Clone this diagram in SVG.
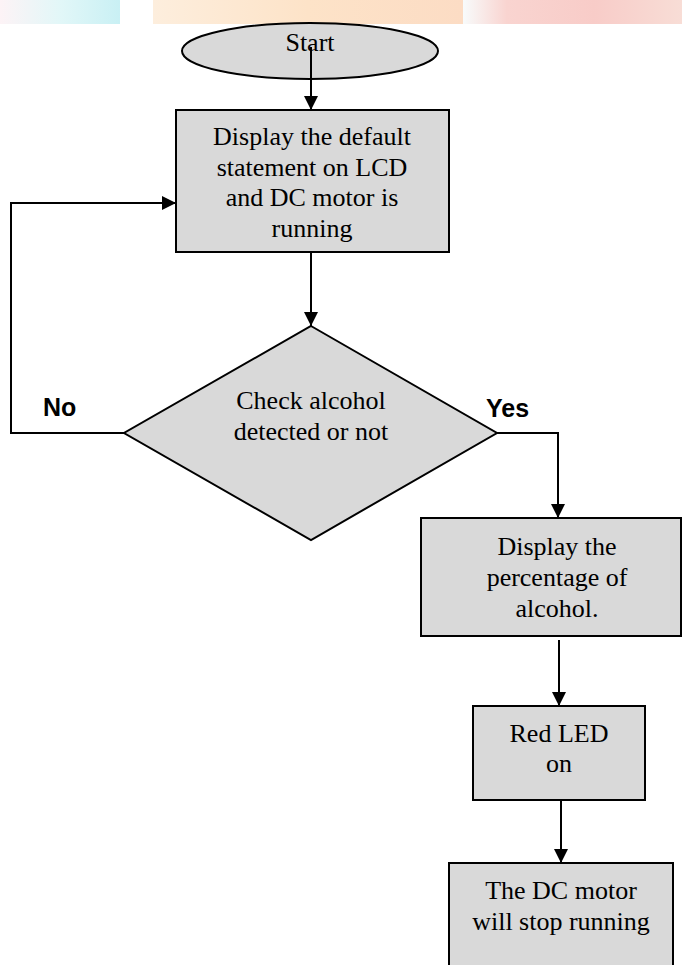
<svg xmlns="http://www.w3.org/2000/svg" width="682" height="965" viewBox="0 0 682 965">
<defs>
<style>
.node{fill:#d9d9d9;stroke:#000;stroke-width:2}
.t{font-family:"Liberation Serif","Times New Roman",serif;font-size:26px;fill:#000;text-anchor:middle}
.lbl{font-family:"Liberation Sans",Arial,sans-serif;font-size:25px;font-weight:bold;fill:#000}
.edge{fill:none;stroke:#000;stroke-width:2}
</style>
<marker id="ah" markerWidth="14" markerHeight="14" refX="14" refY="7" orient="auto" markerUnits="userSpaceOnUse">
<path d="M0,0 L14,7 L0,14 Z" fill="#000"/>
</marker>
<linearGradient id="gc" x1="0" y1="0" x2="1" y2="0">
<stop offset="0" stop-color="#fdf3f6"/>
<stop offset="0.5" stop-color="#e2f7f8"/>
<stop offset="1" stop-color="#c9f0f4"/>
</linearGradient>
<linearGradient id="go" x1="0" y1="0" x2="1" y2="0">
<stop offset="0" stop-color="#fdeedd"/>
<stop offset="0.5" stop-color="#fde3c8"/>
<stop offset="1" stop-color="#fcdcc4"/>
</linearGradient>
<linearGradient id="gr" x1="0" y1="0" x2="1" y2="0">
<stop offset="0" stop-color="#f8fbfb"/>
<stop offset="0.2" stop-color="#f9d4d0"/>
<stop offset="0.6" stop-color="#f8ccc8"/>
<stop offset="1" stop-color="#f8ddd6"/>
</linearGradient>
</defs>
<rect width="682" height="965" fill="#fff"/>
<g id="watermark">
<rect x="0" y="0" width="120" height="24" fill="url(#gc)"/>
<rect x="153" y="0" width="310" height="24" fill="url(#go)"/>
<rect x="463" y="0" width="219" height="24" fill="url(#gr)"/>
</g>
<g id="start">
<ellipse class="node" cx="310" cy="51" rx="128" ry="28"/>
<text class="t" x="310" y="51">Start</text>
</g>
<g id="display-default">
<rect class="node" x="176" y="110" width="273" height="142"/>
<text class="t" x="312" y="145">Display the default</text>
<text class="t" x="312" y="176">statement on LCD</text>
<text class="t" x="312" y="206">and DC motor is</text>
<text class="t" x="312" y="237">running</text>
</g>
<g id="check">
<polygon class="node" points="311,326 497,433 311,540 124,433"/>
<text class="t" x="311" y="409">Check alcohol</text>
<text class="t" x="311" y="440">detected or not</text>
</g>
<g id="display-percentage">
<rect class="node" x="421" y="518" width="260" height="118"/>
<text class="t" x="557" y="555">Display the</text>
<text class="t" x="557" y="586">percentage of</text>
<text class="t" x="557" y="617">alcohol.</text>
</g>
<g id="red-led">
<rect class="node" x="473" y="706" width="172" height="94"/>
<text class="t" x="559" y="742">Red LED</text>
<text class="t" x="559" y="772">on</text>
</g>
<g id="motor-stop">
<rect class="node" x="449" y="863" width="224" height="110"/>
<text class="t" x="561" y="899">The DC motor</text>
<text class="t" x="561" y="930">will stop running</text>
</g>
<g id="connectors">
<path class="edge" d="M311,47 V110" marker-end="url(#ah)"/>
<path class="edge" d="M311,252 V326" marker-end="url(#ah)"/>
<path class="edge" d="M124,433 H11 V203 H176" marker-end="url(#ah)"/>
<path class="edge" d="M497,433 H558 V518" marker-end="url(#ah)"/>
<path class="edge" d="M559,640 V706" marker-end="url(#ah)"/>
<path class="edge" d="M561,800 V863" marker-end="url(#ah)"/>
<text class="lbl" x="43" y="416">No</text>
<text class="lbl" x="486" y="417">Yes</text>
</g>
</svg>
